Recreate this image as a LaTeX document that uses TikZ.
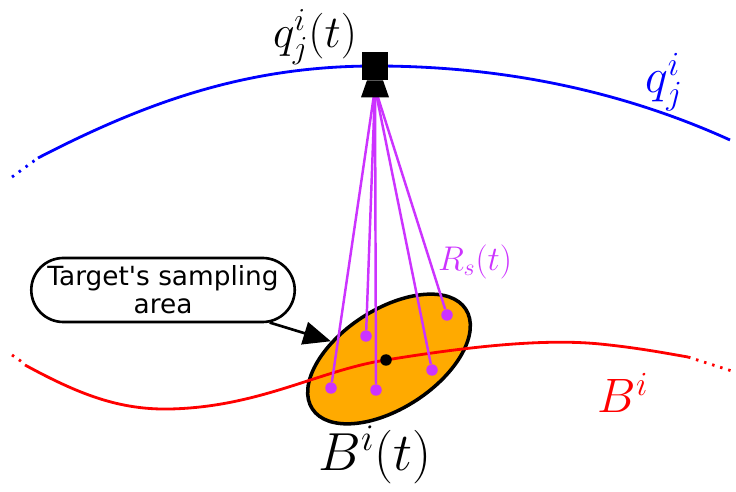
\RequirePackage{fix-cm}
\documentclass[tikz,border=0pt]{standalone}
\usepackage{fontspec}
\newfontfamily\calloutfont{DejaVu Sans}
\usetikzlibrary{arrows.meta,positioning,shapes.geometric,shapes.misc}
\definecolor{samplecol}{RGB}{204,51,255}
\definecolor{areacol}{RGB}{255,170,0}

\begin{document}
\begin{tikzpicture}[x=0.02cm,y=-0.02cm,>={Triangle[length=5.5mm,width=4.6mm]},
  traj/.style={line width=1.6pt},
  dots/.style={line width=1.6pt,dash pattern=on 1.4pt off 3.4pt},
  sdot/.style={circle,fill=samplecol,inner sep=0pt,minimum size=2.3mm},
  cdot/.style={circle,fill=black,inner sep=0pt,minimum size=2.3mm},
  ray/.style={draw=samplecol,line width=1.4pt},
  area/.style={ellipse,draw,line width=2pt,fill=areacol,minimum width=3.66cm,minimum height=1.98cm,rotate=33},
  callout/.style={rounded rectangle,draw,line width=1.5pt,minimum width=5.34cm,minimum height=1.28cm,align=center,inner sep=1pt,font=\calloutfont\fontsize{15}{16}\selectfont}]
\useasboundingbox (0,0) rectangle (736,492);
% agent trajectory
\draw[dots,blue] (12,177) -- (38,158);
\draw[traj,blue] (38,158) .. controls (150,100) and (250,66) .. (375,66) .. controls (500,66) and (620,90) .. (730,140);
% sampling area and target trajectory
\node[area] (area) at (389,359) {};
\draw[dots,red] (12,355) -- (25,364);
\draw[traj,red] (25,365) .. controls (80,395) and (120,410) .. (170,409)
  .. controls (260,407) and (320,370) .. (386,360)
  .. controls (460,348) and (540,338) .. (600,344)
  .. controls (640,348) and (670,354) .. (688,357);
\draw[dots,red] (688,357) -- (735,372);
\node[cdot] (ctr) at (386,360) {};
% samples
\coordinate (focus) at (375,88);
\foreach \i/\p in {1/{(331,388)},2/{(366,336)},3/{(376,390)},4/{(432,370)},5/{(447,315)}}{
  \node[sdot] (s\i) at \p {};
  \draw[ray] (s\i) -- (focus);
}
% sensor
\node[fill,minimum width=0.52cm,minimum height=0.56cm,inner sep=0pt] (cam) at (375,66) {};
\fill (cam.south) ++(-8,0) -- ++(16,0) -- ++(6,17) -- ++(-28,0) -- cycle;
% labels
\node[font=\fontsize{26}{30}\selectfont] (qlab) at (315,37) {$q^i_j(t)$};
\node[font=\fontsize{27.5}{30}\selectfont,text=blue] (qtraj) at (664,82) {$q^i_j$};
\node[font=\fontsize{27.5}{30}\selectfont,text=red] (btraj) at (623,393) {$B^i$};
\node[font=\fontsize{30.5}{34}\selectfont] (blab) at (375,455) {$B^i(t)$};
\node[font=\fontsize{19.5}{22}\selectfont,text=samplecol] (rlab) at (475,262) {$R_s(t)$};
\node[callout] (note) at (163,290) {Target's sampling\\area};
\draw[->,line width=1.5pt] (note) -- (area);
\end{tikzpicture}
\end{document}
